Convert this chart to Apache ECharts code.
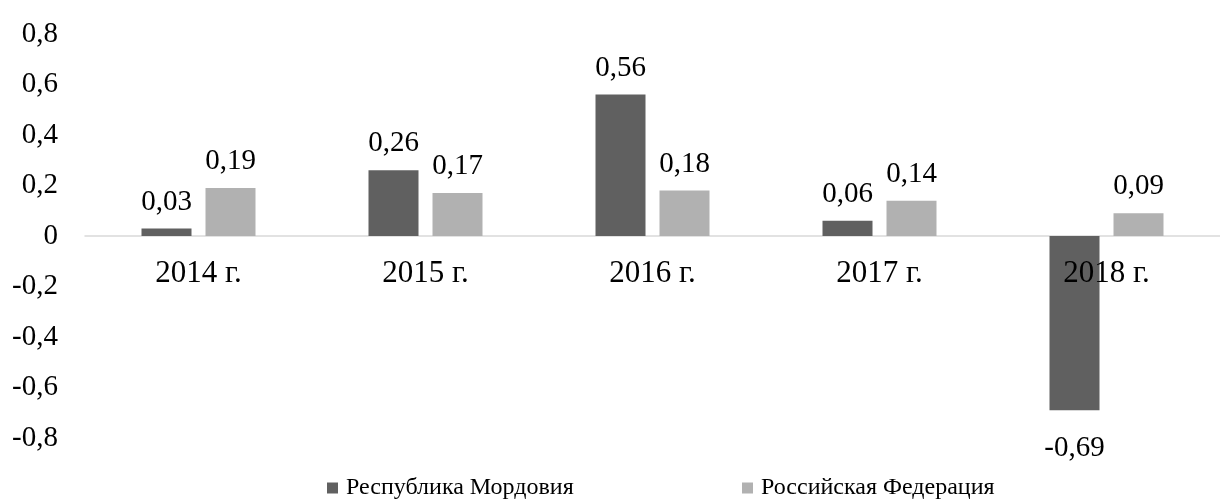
<!DOCTYPE html>
<html>
<head>
<meta charset="utf-8">
<script src="https://cdn.jsdelivr.net/npm/echarts@6/dist/echarts.min.js"></script>
<style>
  html, body { margin: 0; padding: 0; background: #fff; }
  #chart { width: 1220px; height: 499px; }
</style>
</head>
<body>
<div id="chart"></div>
<script>
const years = ['2014 г.', '2015 г.', '2016 г.', '2017 г.', '2018 г.'];
const mordoviya = [0.03, 0.26, 0.56, 0.06, -0.69];
const russia = [0.19, 0.17, 0.18, 0.14, 0.09];
const seriesNames = ['Республика Мордовия', 'Российская Федерация'];

const font = "'Liberation Serif', 'Times New Roman', serif";
const comma = v => String(v).replace('.', ',');

// negative bars get their label underneath
function withLabels(arr) {
  return arr.map(v => ({
    value: v,
    label: { position: v < 0 ? 'bottom' : 'top', distance: v < 0 ? 24 : 12 }
  }));
}

const myChart = echarts.init(document.getElementById('chart'));
let option = {
  animation: false,
  grid: { left: 85, top: 34, width: 1146, height: 404 },
  legend: [
    {
      data: [seriesNames[0]],
      left: 322, top: 471,
      itemWidth: 11, itemHeight: 11,
      icon: 'rect',
      textStyle: { fontFamily: font, fontSize: 24, color: '#000', padding: [0, 0, 0, 3] }
    },
    {
      data: [seriesNames[1]],
      left: 737, top: 471,
      itemWidth: 11, itemHeight: 11,
      icon: 'rect',
      textStyle: { fontFamily: font, fontSize: 24, color: '#000', padding: [0, 0, 0, 3] }
    }
  ],
  xAxis: [
    {
      type: 'category',
      data: years,
      axisTick: { show: false },
      axisLine: { lineStyle: { color: '#d9d9d9', width: 1.5 } },
      axisLabel: { show: false }
    },
    {
      // labels only, lifted up to sit under the zero line
      type: 'category',
      data: years,
      position: 'bottom',
      offset: -202,
      z: 10,
      axisTick: { show: false },
      axisLine: { show: false },
      axisLabel: { fontFamily: font, fontSize: 31, color: '#000', margin: 22 }
    }
  ],
  yAxis: {
    type: 'value',
    min: -0.8,
    max: 0.8,
    interval: 0.2,
    splitLine: { show: false },
    axisLine: { show: false },
    axisTick: { show: false },
    axisLabel: {
      fontFamily: font, fontSize: 29, color: '#000', margin: 27,
      formatter: v => Math.abs(v) < 1e-9 ? '0' : v.toFixed(1).replace('.', ',')
    }
  },
  series: [
    {
      name: seriesNames[0],
      type: 'bar',
      barWidth: 50,
      barGap: '28%',
      color: '#606060',
      data: withLabels(mordoviya),
      label: {
        show: true, fontFamily: font, fontSize: 29, color: '#000',
        formatter: p => comma(p.value)
      }
    },
    {
      name: seriesNames[1],
      type: 'bar',
      barWidth: 50,
      color: '#b1b1b1',
      data: withLabels(russia),
      label: {
        show: true, fontFamily: font, fontSize: 29, color: '#000',
        formatter: p => comma(p.value)
      }
    }
  ]
};
option && myChart.setOption(option);
</script>
</body>
</html>
